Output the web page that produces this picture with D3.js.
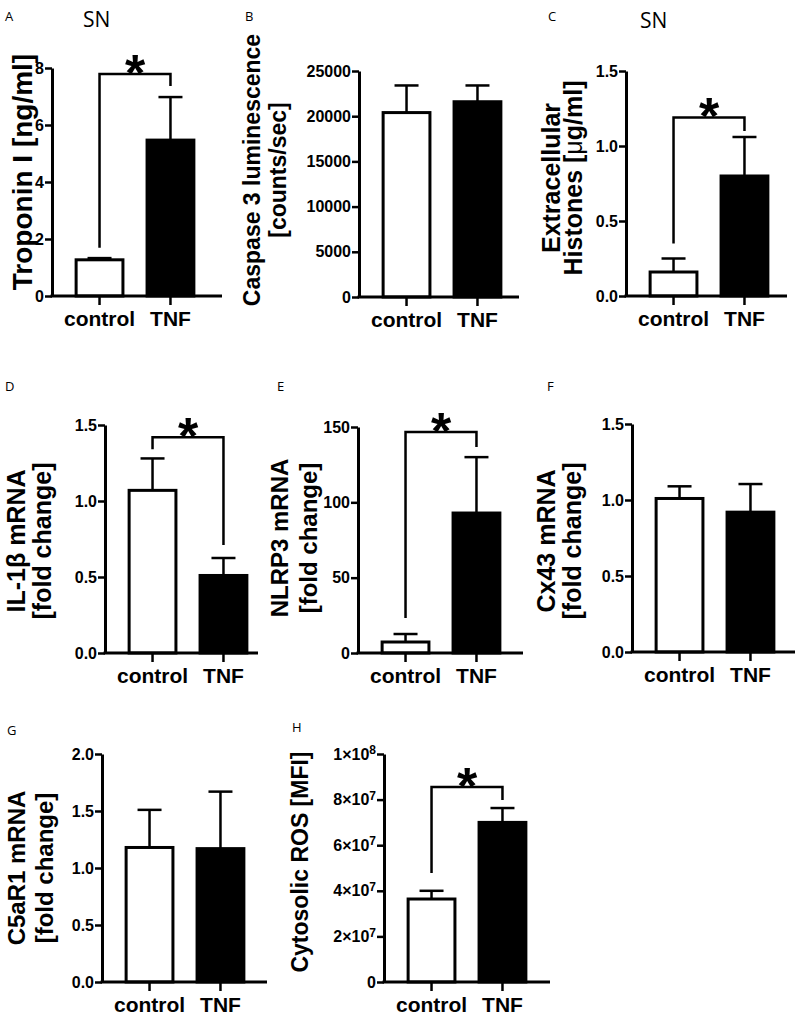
<!DOCTYPE html>
<html><head><meta charset="utf-8">
<script src="https://cdn.jsdelivr.net/npm/d3@7"></script>
<style>body{margin:0;background:#fff}svg{display:block}</style>
</head><body><svg id="c" width="800" height="1017"></svg>
<script>
// ---------- data ----------
const categories = ["control", "TNF"];

const troponinMean = [1.27, 5.47];
const troponinSem  = [0.06, 1.51];
const troponinTicks = [0, 2, 4, 6, 8];
const troponinBracket = [1.69, 7.79, 7.37];

const caspaseMean = [20400, 21600];
const caspaseSem  = [3000, 1800];
const caspaseTicks = [0, 5000, 10000, 15000, 20000, 25000];

const histoneMean = [0.16, 0.80];
const histoneSem  = [0.09, 0.26];
const histoneTicks = [0, 0.5, 1.0, 1.5];
const histoneBracket = [0.35, 1.19, 1.10];

const il1bMean = [1.07, 0.51];
const il1bSem  = [0.21, 0.115];
const il1bTicks = [0, 0.5, 1.0, 1.5];
const il1bBracket = [1.34, 1.42, 0.71];

const nlrp3Mean = [7.3, 92.9];
const nlrp3Sem  = [5.3, 37.1];
const nlrp3Ticks = [0, 50, 100, 150];
const nlrp3Bracket = [23.2, 146.7, 136.7];

const cx43Mean = [1.01, 0.92];
const cx43Sem  = [0.08, 0.185];
const cx43Ticks = [0, 0.5, 1.0, 1.5];

const c5ar1Mean = [1.18, 1.17];
const c5ar1Sem  = [0.33, 0.50];
const c5ar1Ticks = [0, 0.5, 1.0, 1.5, 2.0];

const rosMean = [3.64e7, 7.0e7];
const rosSem  = [0.36e7, 0.63e7];
const rosTicks = [0, 2e7, 4e7, 6e7, 8e7, 1e8];
const rosBracket = [4.78e7, 8.55e7, 7.98e7];

const panelLetters = ["A", "B", "C", "D", "E", "F", "G", "H"];
const sideTitle = "SN";

// ---------- layout (positions / styles) ----------
const fmt1 = d3.format(".1f");
const fmt0 = d => String(d);
const panels = [
  {mean: troponinMean, sem: troponinSem, ticks: troponinTicks, fmt: fmt0, bracket: troponinBracket,
   left: 52, top: 68, bottom: 296, axisW: 170,
   label: ["Troponin I [ng/ml]"], lx: [24], ly: 172, lfs: 28,
   letter: [5, 21], sn: [83, 27]},
  {mean: caspaseMean, sem: caspaseSem, ticks: caspaseTicks, fmt: fmt0, bracket: null,
   left: 359, top: 71, bottom: 297, axisW: 160,
   label: ["Caspase 3 luminescence", "[counts/sec]"], lx: [254, 280], ly: 170, lfs: 23,
   letter: [245, 21]},
  {mean: histoneMean, sem: histoneSem, ticks: histoneTicks, fmt: fmt1, bracket: histoneBracket,
   left: 626, top: 71, bottom: 296, axisW: 161,
   label: ["Extracellular", "Histones [μg/ml]"], lx: [553, 575], ly: 178, lfs: 25,
   letter: [548, 21], sn: [640, 28]},
  {mean: il1bMean, sem: il1bSem, ticks: il1bTicks, fmt: fmt1, bracket: il1bBracket,
   left: 105, top: 425, bottom: 653, axisW: 153,
   label: ["IL-1β mRNA", "[fold change]"], lx: [18, 44], ly: 541, lfs: 25,
   letter: [5, 391]},
  {mean: nlrp3Mean, sem: nlrp3Sem, ticks: nlrp3Ticks, fmt: fmt0, bracket: nlrp3Bracket,
   left: 358, top: 427, bottom: 653, axisW: 165,
   label: ["NLRP3 mRNA", "[fold change]"], lx: [282, 311], ly: 538, lfs: 24,
   letter: [277, 391]},
  {mean: cx43Mean, sem: cx43Sem, ticks: cx43Ticks, fmt: fmt1, bracket: null,
   left: 632, top: 424, bottom: 652, axisW: 163,
   label: ["Cx43 mRNA", "[fold change]"], lx: [548, 574], ly: 541, lfs: 25,
   letter: [547, 391]},
  {mean: c5ar1Mean, sem: c5ar1Sem, ticks: c5ar1Ticks, fmt: fmt1, bracket: null,
   left: 102, top: 754, bottom: 982, axisW: 165,
   label: ["C5aR1 mRNA", "[fold change]"], lx: [19, 47], ly: 868, lfs: 24,
   letter: [7, 735]},
  {mean: rosMean, sem: rosSem, ticks: rosTicks, fmt: "sci", bracket: rosBracket,
   left: 384, top: 754, bottom: 982, axisW: 166,
   label: ["Cytosolic ROS [MFI]"], lx: [302], ly: 862, lfs: 23,
   letter: [292, 732]}
];

const FONT = "'Liberation Sans', Arial, Helvetica, sans-serif";
const svg = d3.select("#c");

panels.forEach((p, i) => {
  const g = svg.append("g");
  const yMax = p.ticks[p.ticks.length - 1];
  const y = d3.scaleLinear().domain([0, yMax]).range([p.bottom, p.top]);
  const x = d3.scaleBand().domain(categories).range([p.left, p.left + 166])
              .paddingInner(0.34).paddingOuter(0.34);
  const bw = x.bandwidth();

  // bars
  g.selectAll("rect.bar").data(categories).enter().append("rect")
    .attr("x", d => x(d)).attr("width", bw)
    .attr("y", (d, k) => y(p.mean[k]))
    .attr("height", (d, k) => y(0) - y(p.mean[k]))
    .attr("fill", (d, k) => k === 0 ? "#fff" : "#000")
    .attr("stroke", "#000").attr("stroke-width", 3);

  // error bars (upper only)
  categories.forEach((c, k) => {
    const cx = x(c) + bw / 2;
    const yt = y(p.mean[k] + p.sem[k]);
    g.append("line").attr("x1", cx).attr("x2", cx)
      .attr("y1", y(p.mean[k])).attr("y2", yt)
      .attr("stroke", "#000").attr("stroke-width", 2.5);
    g.append("line").attr("x1", cx - 12).attr("x2", cx + 12)
      .attr("y1", yt).attr("y2", yt)
      .attr("stroke", "#000").attr("stroke-width", 2.5);
  });

  // y axis
  const yAxis = d3.axisLeft(y).tickValues(p.ticks).tickSize(7).tickPadding(1).tickSizeOuter(0);
  if (p.fmt !== "sci") yAxis.tickFormat(p.fmt);
  const ya = g.append("g").attr("transform", `translate(${p.left},0)`).call(yAxis);
  ya.select(".domain").attr("stroke-width", 3);
  ya.selectAll(".tick line").attr("stroke-width", 2.5);
  ya.selectAll(".tick text").attr("font-family", FONT).attr("font-weight", "bold")
    .attr("font-size", p.fmt === "sci" ? 16 : 16).attr("fill", "#000");
  if (p.fmt === "sci") {
    ya.selectAll(".tick text").each(function(d) {
      const t = d3.select(this);
      t.text("");
      if (d === 0) { t.text("0"); return; }
      const e = Math.floor(Math.log10(d) + 1e-9);
      const m = Math.round(d / Math.pow(10, e));
      t.append("tspan").text(m + "×10");
      t.append("tspan").attr("dy", "-0.45em").attr("font-size", 12).text(e);
    });
  }

  // x axis
  g.append("line").attr("x1", p.left - 1.5).attr("x2", p.left + p.axisW)
    .attr("y1", y(0)).attr("y2", y(0)).attr("stroke", "#000").attr("stroke-width", 3);
  const xAxis = d3.axisBottom(x).tickSize(9).tickSizeOuter(0).tickPadding(6);
  const xa = g.append("g").attr("transform", `translate(0,${y(0)})`).call(xAxis);
  xa.select(".domain").remove();
  xa.selectAll(".tick line").attr("stroke-width", 2.5);
  xa.selectAll(".tick text").attr("font-family", FONT).attr("font-weight", "bold")
    .attr("font-size", 21).attr("fill", "#000");

  // y label
  p.label.forEach((s, j) => {
    const t = g.append("text")
      .attr("transform", `translate(${p.lx[j] + 0.27 * p.lfs},${p.ly}) rotate(-90)`)
      .attr("text-anchor", "middle").attr("font-family", FONT)
      .attr("font-weight", "bold").attr("font-size", p.lfs).attr("fill", "#000");
    if (s.includes("μ")) {
      const parts = s.split("μ");
      t.append("tspan").text(parts[0]);
      t.append("tspan").attr("font-weight", "normal").text("μ");
      t.append("tspan").text(parts[1]);
    } else t.text(s);
  });

  // significance bracket
  if (p.bracket) {
    const x0 = x(categories[0]) + bw / 2, x1 = x(categories[1]) + bw / 2;
    const [b0, bt, b1] = p.bracket;
    g.append("path")
      .attr("d", `M${x0},${y(b0)}V${y(bt)}H${x1}V${y(b1)}`)
      .attr("fill", "none").attr("stroke", "#000").attr("stroke-width", 2.5);
    const fs = 52;
    g.append("text").attr("x", (x0 + x1) / 2).attr("y", y(bt) - 13 + 0.57 * fs)
      .attr("text-anchor", "middle").attr("font-family", FONT).attr("font-weight", "bold")
      .attr("font-size", fs).attr("fill", "#000").text("*");
  }

  // panel letter
  g.append("text").attr("x", p.letter[0]).attr("y", p.letter[1])
    .attr("font-family", "'Open Sans', 'Liberation Sans', sans-serif")
    .attr("font-size", 13).attr("fill", "#000").text(panelLetters[i]);
  if (p.sn) {
    g.append("text").attr("x", p.sn[0]).attr("y", p.sn[1])
      .attr("font-family", "'Open Sans', 'Liberation Sans', sans-serif")
      .attr("font-size", 21).attr("fill", "#000").text(sideTitle);
  }
});
</script></body></html>
